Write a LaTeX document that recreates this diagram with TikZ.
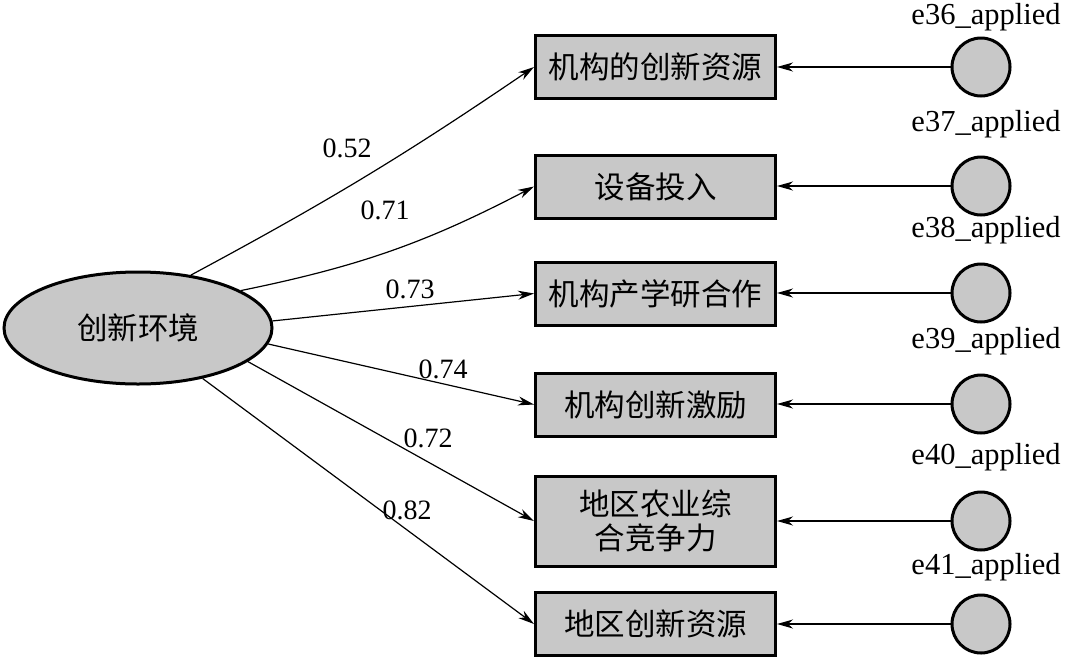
\documentclass[tikz,border=0pt]{standalone}
\usepackage{fontspec}
\setmainfont{Liberation Serif}
\newfontfamily\cjk{Noto Sans CJK SC}
\usetikzlibrary{arrows.meta,shapes.geometric}
\definecolor{fillgray}{RGB}{200,200,200}
\tikzset{
  obs/.style={draw=black,line width=3pt,fill=fillgray,minimum width=240pt,minimum height=#1,inner sep=0pt,font=\cjk\fontsize{30.5}{34}\selectfont,align=center},
  obs/.default=63pt,
  lat/.style={ellipse,draw=black,line width=3pt,fill=fillgray,minimum width=268pt,minimum height=112pt,inner sep=0pt,font=\cjk\fontsize{30.5}{34}\selectfont},
  err/.style={circle,draw=black,line width=3pt,fill=fillgray,minimum size=58pt,inner sep=0pt},
  elab/.style={font=\fontsize{30.5}{34}\selectfont,inner sep=0pt},
  wlab/.style={font=\fontsize{28}{32}\selectfont,inner sep=0pt},
  conn/.style={line width=1.2pt,-{Stealth[length=16pt,width=9pt,inset=5pt]}},
}
\begin{document}
\begin{tikzpicture}[x=1pt,y=-1pt]
\useasboundingbox (0,0) rectangle (1065,659);
\node[lat] (e) at (138,328) {创新环境};
\node[obs] (b1) at (655.5,67) {机构的创新资源};
\node[obs] (b2) at (655.5,186.5) {设备投入};
\node[obs] (b3) at (655.5,293.5) {机构产学研合作};
\node[obs] (b4) at (655.5,404.5) {机构创新激励};
\node[obs=90pt] (b5) at (655.5,521) {地区农业综\\合竞争力};
\node[obs] (b6) at (655.5,624) {地区创新资源};
\foreach \i/\y/\ly/\n in {1/67/17/36,2/186/124/37,3/293/230/38,4/404/341/39,5/521/457/40,6/624/567/41}{
  \node[err] (c\i) at (981,\y) {};
  \node[elab] (l\i) at (986,\ly) {e\n\_applied};
  \draw[conn] (c\i) -- (c\i -| b\i.east);
}
\draw[conn] (e.45) to[bend right=3] (b1.west);
\draw[conn] (e.20) to[bend right=8] (b2.west);
\draw[conn] (e.3) -- (b3.west);
\draw[conn] (e.-7) -- (b4.west);
\draw[conn] (e.-17) -- (b5.west);
\draw[conn] (e.-38) -- (b6.west);
\node[wlab] (w1) at (347,148) {0.52};
\node[wlab] (w2) at (385,210) {0.71};
\node[wlab] (w3) at (410,289) {0.73};
\node[wlab] (w4) at (443,369) {0.74};
\node[wlab] (w5) at (428,438) {0.72};
\node[wlab] (w6) at (407,510) {0.82};
\end{tikzpicture}
\end{document}
